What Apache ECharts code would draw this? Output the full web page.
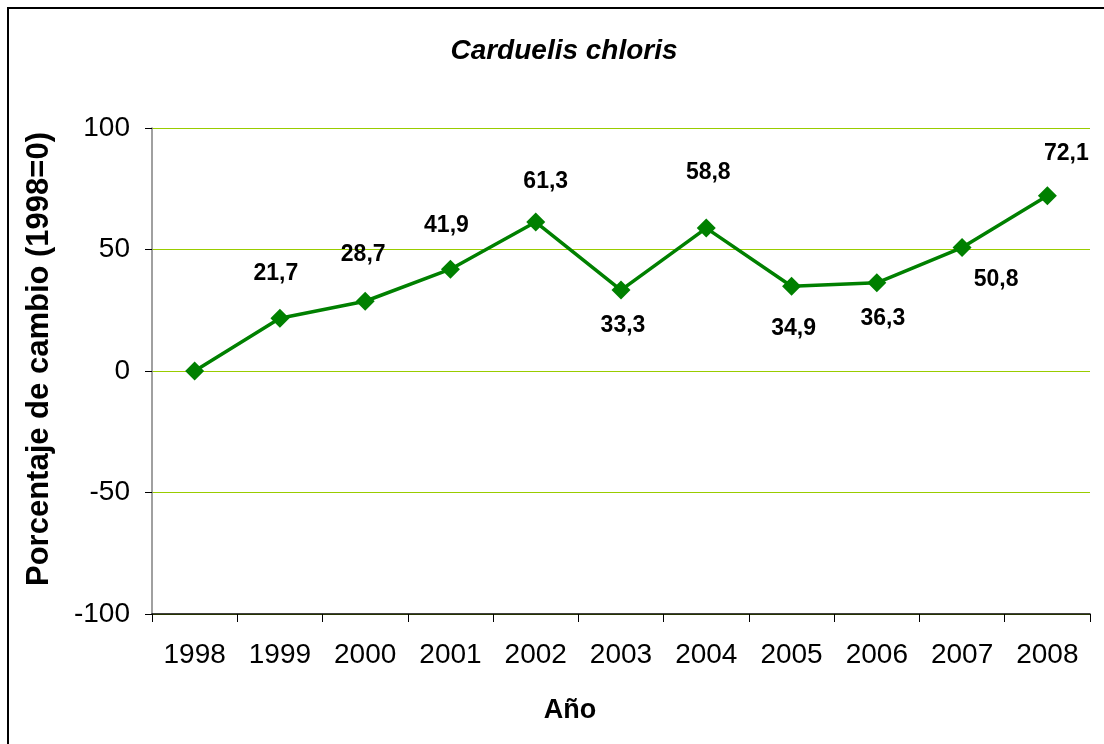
<!DOCTYPE html>
<html>
<head>
<meta charset="utf-8">
<script src="https://cdn.jsdelivr.net/npm/echarts@6/dist/echarts.min.js"></script>
<style>
html,body{margin:0;padding:0;background:#fff;}
#chart{width:1104px;height:744px;}
</style>
</head>
<body>
<div id="chart"></div>
<script>
// ---- data ----
var titleText = 'Carduelis chloris';
var years = ['1998','1999','2000','2001','2002','2003','2004','2005','2006','2007','2008'];
var changePct = [0, 21.7, 28.7, 41.9, 61.3, 33.3, 58.8, 34.9, 36.3, 50.8, 72.1];
var yTicks = [-100, -50, 0, 50, 100];
var yName = 'Porcentaje de cambio (1998=0)';
var xName = 'Año';

// ---- layout (label placement relative to each marker) ----
var labelOffsets = [null, [-4,-45], [-2,-47], [-4,-44], [10,-40], [2,36], [2,-55], [2,42], [6,36], [34,32], [19,-42]];

var FONT = '"Liberation Sans", Arial, sans-serif';

var seriesData = changePct.map(function (v, i) {
  var off = labelOffsets[i];
  return {
    value: v,
    label: off ? { show: true, position: 'inside', offset: off } : { show: false }
  };
});

var chart = echarts.init(document.getElementById('chart'), null, { renderer: 'canvas' });
chart.setOption({
  backgroundColor: '#fff',
  animation: false,
  title: {
    text: titleText,
    left: 559,
    textAlign: 'center',
    top: 32,
    textStyle: { fontFamily: FONT, fontSize: 28, fontWeight: 'bold', fontStyle: 'italic', color: '#000' }
  },
  graphic: [{
    type: 'rect',
    shape: { x: 8, y: 8, width: 1300, height: 1000 },
    style: { fill: 'none', stroke: '#000', lineWidth: 2 },
    silent: true
  }],
  grid: { left: 152, right: 14, top: 128, bottom: 130, containLabel: false },
  xAxis: {
    type: 'category',
    data: years,
    boundaryGap: true,
    name: xName,
    nameLocation: 'middle',
    nameGap: 83,
    nameTextStyle: { fontFamily: FONT, fontSize: 27, fontWeight: 'bold', color: '#000', padding: [0, 102, 0, 0] },
    axisLine: { show: true, onZero: false, lineStyle: { color: '#000', width: 1.5 } },
    axisTick: { show: true, alignWithLabel: false, length: 8, lineStyle: { color: '#000', width: 1 } },
    axisLabel: { margin: 27, fontFamily: FONT, fontSize: 28, color: '#000' },
    splitLine: { show: false }
  },
  yAxis: {
    type: 'value',
    min: yTicks[0],
    max: yTicks[yTicks.length - 1],
    interval: 50,
    name: yName,
    nameLocation: 'middle',
    nameGap: 97,
    nameTextStyle: { fontFamily: FONT, fontSize: 31, fontWeight: 'bold', color: '#000', padding: [0, 0, 0, 24] },
    axisLine: { show: true, lineStyle: { color: '#808080', width: 1.5 } },
    axisTick: { show: true, length: 7, lineStyle: { color: '#000', width: 1 } },
    axisLabel: { margin: 22, fontFamily: FONT, fontSize: 28, color: '#000' },
    splitLine: { show: true, lineStyle: { color: '#99cc00', width: 1 } }
  },
  series: [{
    type: 'line',
    data: seriesData,
    symbol: 'diamond',
    symbolSize: 19,
    showAllSymbol: true,
    lineStyle: { color: '#008000', width: 3.5 },
    itemStyle: { color: '#008000' },
    label: {
      fontFamily: FONT, fontSize: 23, fontWeight: 'bold', color: '#000',
      formatter: function (p) { return p.value.toFixed(1).replace('.', ','); }
    }
  }]
});
</script>
</body>
</html>
